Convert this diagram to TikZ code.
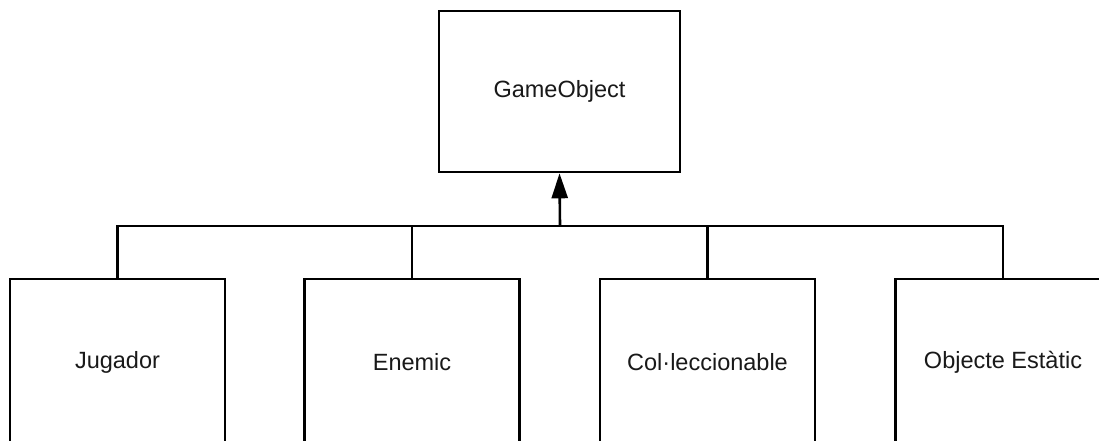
\documentclass[tikz,border=0pt]{standalone}
\usepackage{fontspec}
\setmainfont{Liberation Sans}
\usetikzlibrary{arrows.meta}
\begin{document}
\begin{tikzpicture}[x=1pt,y=1pt,
  cls/.style={draw=black, line width=2.6pt, fill=white, inner sep=0pt,
    font=\fontsize{23.5}{28}\selectfont, text=black!90},
  topcls/.style={cls, minimum width=241pt, minimum height=161pt},
  subcls/.style={cls, minimum width=215pt, minimum height=166pt},
  link/.style={draw=black, line width=2.6pt},
  inherit/.style={link, -{Triangle[length=25pt,width=16pt]}}]
\useasboundingbox (0,0) rectangle (1099,440);
\clip (0,0) rectangle (1099,440);
\node[topcls] (go) at (559.5,348.5) {GameObject};
\node[subcls] (jug) at (117.5,78) {Jugador};
\node[subcls] (ene) at (412,78) {Enemic};
\node[subcls] (col) at (707.5,78) {Col·leccionable};
\node[subcls] (obj) at (1003,78) {Objecte Estàtic};
\coordinate (bus) at (560,214);
\draw[link] (jug.north) |- (bus) -| (obj.north);
\draw[link] (ene.north) -- (ene.north |- bus);
\draw[link] (col.north) -- (col.north |- bus);
\draw[inherit] (bus) -- (go.south);
\end{tikzpicture}
\end{document}
